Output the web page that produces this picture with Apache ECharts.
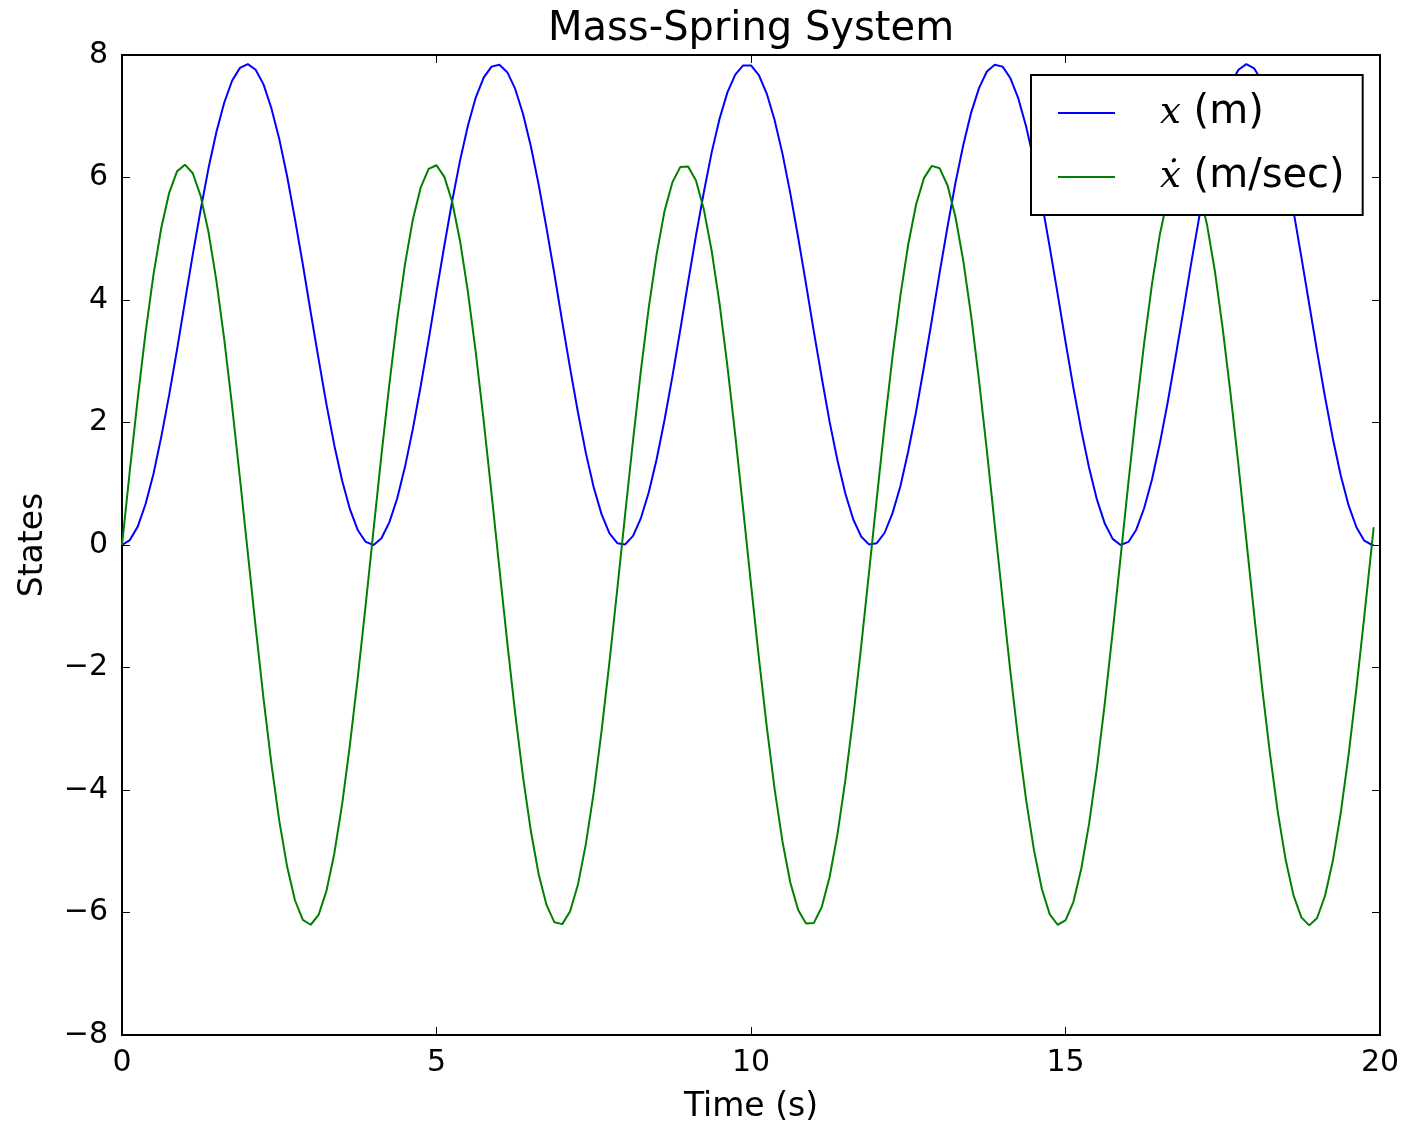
<!DOCTYPE html>
<html>
<head>
<meta charset="utf-8">
<title>Mass-Spring System</title>
<script src="https://cdn.jsdelivr.net/npm/echarts@6/dist/echarts.min.js"></script>
<style>
  html, body { margin: 0; padding: 0; background: #fff; }
  #chart { width: 1418px; height: 1123px; }
</style>
</head>
<body>
<div id="chart"></div>
<script>
// time samples (s)
var times = [
  0, 0.125, 0.25, 0.375, 0.5, 0.625, 0.75, 0.875, 1, 1.125, 1.25, 1.375, 1.5, 1.625, 1.75, 1.875,
  2, 2.125, 2.25, 2.375, 2.5, 2.625, 2.75, 2.875, 3, 3.125, 3.25, 3.375, 3.5, 3.625, 3.75, 3.875,
  4, 4.125, 4.25, 4.375, 4.5, 4.625, 4.75, 4.875, 5, 5.125, 5.25, 5.375, 5.5, 5.625, 5.75, 5.875,
  6, 6.125, 6.25, 6.375, 6.5, 6.625, 6.75, 6.875, 7, 7.125, 7.25, 7.375, 7.5, 7.625, 7.75, 7.875,
  8, 8.125, 8.25, 8.375, 8.5, 8.625, 8.75, 8.875, 9, 9.125, 9.25, 9.375, 9.5, 9.625, 9.75, 9.875,
  10, 10.125, 10.25, 10.375, 10.5, 10.625, 10.75, 10.875, 11, 11.125, 11.25, 11.375, 11.5, 11.625, 11.75, 11.875,
  12, 12.125, 12.25, 12.375, 12.5, 12.625, 12.75, 12.875, 13, 13.125, 13.25, 13.375, 13.5, 13.625, 13.75, 13.875,
  14, 14.125, 14.25, 14.375, 14.5, 14.625, 14.75, 14.875, 15, 15.125, 15.25, 15.375, 15.5, 15.625, 15.75, 15.875,
  16, 16.125, 16.25, 16.375, 16.5, 16.625, 16.75, 16.875, 17, 17.125, 17.25, 17.375, 17.5, 17.625, 17.75, 17.875,
  18, 18.125, 18.25, 18.375, 18.5, 18.625, 18.75, 18.875, 19, 19.125, 19.25, 19.375, 19.5, 19.625, 19.75, 19.875,
  19.9
];
// position x (m)
var position = [
  0.00, 0.08, 0.30, 0.67, 1.16, 1.77, 2.45, 3.19, 3.97, 4.74, 5.47, 6.15, 6.74, 7.22, 7.58, 7.79,
  7.85, 7.76, 7.52, 7.13, 6.63, 6.02, 5.32, 4.58, 3.80, 3.04, 2.30, 1.63, 1.05, 0.58, 0.24, 0.05,
  0.00, 0.11, 0.37, 0.76, 1.28, 1.90, 2.60, 3.35, 4.13, 4.89, 5.62, 6.28, 6.85, 7.31, 7.63, 7.81,
  7.84, 7.72, 7.45, 7.04, 6.51, 5.88, 5.17, 4.42, 3.64, 2.88, 2.16, 1.50, 0.94, 0.50, 0.19, 0.03,
  0.01, 0.15, 0.44, 0.86, 1.40, 2.04, 2.75, 3.51, 4.29, 5.05, 5.76, 6.41, 6.96, 7.39, 7.68, 7.83,
  7.83, 7.67, 7.37, 6.94, 6.39, 5.74, 5.02, 4.26, 3.48, 2.73, 2.01, 1.38, 0.84, 0.42, 0.14, 0.01,
  0.03, 0.20, 0.52, 0.96, 1.53, 2.18, 2.91, 3.67, 4.45, 5.20, 5.91, 6.53, 7.06, 7.46, 7.73, 7.84,
  7.81, 7.62, 7.29, 6.83, 6.26, 5.59, 4.86, 4.10, 3.32, 2.57, 1.88, 1.26, 0.74, 0.35, 0.10, 0.00,
  0.05, 0.25, 0.60, 1.07, 1.66, 2.33, 3.07, 3.83, 4.61, 5.35, 6.04, 6.65, 7.15, 7.53, 7.76, 7.85,
  7.78, 7.57, 7.21, 6.72, 6.13, 5.45, 4.70, 3.93, 3.16, 2.42, 1.74, 1.14, 0.65, 0.29, 0.07, 0.00,
  0.00
];
// velocity x-dot (m/sec)
var velocity = [
  0.00, 1.22, 2.39, 3.47, 4.41, 5.18, 5.75, 6.10, 6.21, 6.07, 5.70, 5.11, 4.32, 3.36, 2.27, 1.09,
  -0.13, -1.34, -2.51, -3.57, -4.50, -5.25, -5.80, -6.12, -6.20, -6.04, -5.65, -5.04, -4.23, -3.25, -2.15, -0.97,
  0.26, 1.47, 2.62, 3.68, 4.59, 5.32, 5.84, 6.14, 6.20, 6.01, 5.60, 4.96, 4.13, 3.14, 2.03, 0.84,
  -0.38, -1.59, -2.74, -3.78, -4.67, -5.38, -5.88, -6.16, -6.19, -5.98, -5.54, -4.88, -4.04, -3.03, -1.91, -0.71,
  0.51, 1.71, 2.85, 3.88, 4.75, 5.45, 5.92, 6.17, 6.18, 5.95, 5.48, 4.80, 3.94, 2.92, 1.79, 0.59,
  -0.64, -1.84, -2.96, -3.98, -4.84, -5.51, -5.96, -6.18, -6.17, -5.91, -5.42, -4.72, -3.84, -2.81, -1.67, -0.46,
  0.76, 1.96, 3.08, 4.07, 4.91, 5.56, 5.99, 6.19, 6.15, 5.87, 5.36, 4.64, 3.74, 2.69, 1.54, 0.33,
  -0.89, -2.08, -3.19, -4.17, -4.99, -5.62, -6.03, -6.20, -6.13, -5.83, -5.29, -4.55, -3.64, -2.58, -1.42, -0.21,
  1.02, 2.20, 3.29, 4.26, 5.07, 5.67, 6.06, 6.20, 6.11, 5.78, 5.23, 4.47, 3.53, 2.46, 1.30, 0.08,
  -1.14, -2.32, -3.40, -4.36, -5.14, -5.72, -6.08, -6.21, -6.09, -5.73, -5.16, -4.38, -3.43, -2.34, -1.17, 0.05,
  0.29
];
var seriesNames = ["x (m)", "\u1E8B (m/sec)"];
var xTicks = [0, 5, 10, 15, 20];
var yTicks = [-8, -6, -4, -2, 0, 2, 4, 6, 8];

var font = "DejaVu Sans";
var chart = echarts.init(document.getElementById("chart"), null, { renderer: "canvas" });

function pairs(ys) {
  return times.map(function (t, i) { return [t, ys[i]]; });
}
function minus(v) {
  return v < 0 ? "\u2212" + Math.abs(v) : String(v);
}

var tickStyle = { show: true, inside: true, length: 8, lineStyle: { color: "#000", width: 1 } };
var hiddenLine = { show: false, onZero: false };

var option = {
  animation: false,
  backgroundColor: "#fff",
  title: {
    text: "Mass-Spring System",
    left: 543,
    top: 5,
    textStyle: { fontFamily: font, fontSize: 40, fontWeight: "normal", color: "#000" }
  },
  legend: {
    orient: "vertical",
    left: 1031,
    top: 75,
    padding: [18, 18, 18, 27],
    itemGap: 24,
    itemWidth: 57,
    itemHeight: 2,
    icon: "rect",
    backgroundColor: "#fff",
    borderColor: "#000",
    borderWidth: 2,
    borderRadius: 0,
    data: seriesNames,
    formatter: function (name) {
      var sym = name.split(" ")[0];
      var rest = name.slice(sym.length);
      return "{m|" + sym + "}{t|" + rest + "}";
    },
    textStyle: {
      color: "#000",
      lineHeight: 40,
      rich: {
        m: { fontFamily: "DejaVu Serif", fontStyle: "italic", fontSize: 37, color: "#000", padding: [0, 0, 0, 40], lineHeight: 40 },
        t: { fontFamily: font, fontSize: 40, color: "#000", lineHeight: 40 }
      }
    }
  },
  grid: {
    left: 122, right: 38, top: 55, bottom: 88,
    outerBoundsMode: "none",
    show: true, borderColor: "#000", borderWidth: 2, backgroundColor: "transparent"
  },
  xAxis: [
    {
      type: "value", min: xTicks[0], max: xTicks[xTicks.length - 1], interval: 5,
      name: "Time (s)", nameLocation: "middle", nameGap: 56,
      nameTextStyle: { fontFamily: font, fontSize: 33, color: "#000" },
      axisLine: hiddenLine,
      axisTick: tickStyle,
      axisLabel: { fontFamily: font, fontSize: 30, color: "#000", margin: 13 },
      splitLine: { show: false }
    },
    {
      type: "value", position: "top", min: xTicks[0], max: xTicks[xTicks.length - 1], interval: 5,
      axisLine: hiddenLine, axisTick: tickStyle, axisLabel: { show: false }, splitLine: { show: false }
    }
  ],
  yAxis: [
    {
      type: "value", min: yTicks[0], max: yTicks[yTicks.length - 1], interval: 2,
      name: "States", nameLocation: "middle", nameGap: 72, nameRotate: 90,
      nameTextStyle: { fontFamily: font, fontSize: 33, color: "#000" },
      axisLine: hiddenLine,
      axisTick: tickStyle,
      axisLabel: { fontFamily: font, fontSize: 30, color: "#000", margin: 14, formatter: minus },
      splitLine: { show: false }
    },
    {
      type: "value", position: "right", min: yTicks[0], max: yTicks[yTicks.length - 1], interval: 2,
      axisLine: hiddenLine, axisTick: tickStyle, axisLabel: { show: false }, splitLine: { show: false }
    }
  ],
  series: [
    {
      name: seriesNames[0], type: "line", data: pairs(position),
      showSymbol: false, color: "#0000ff",
      lineStyle: { color: "#0000ff", width: 2 }
    },
    {
      name: seriesNames[1], type: "line", data: pairs(velocity),
      showSymbol: false, color: "#008000",
      lineStyle: { color: "#008000", width: 2 }
    }
  ]
};

chart.setOption(option);
</script>
</body>
</html>
